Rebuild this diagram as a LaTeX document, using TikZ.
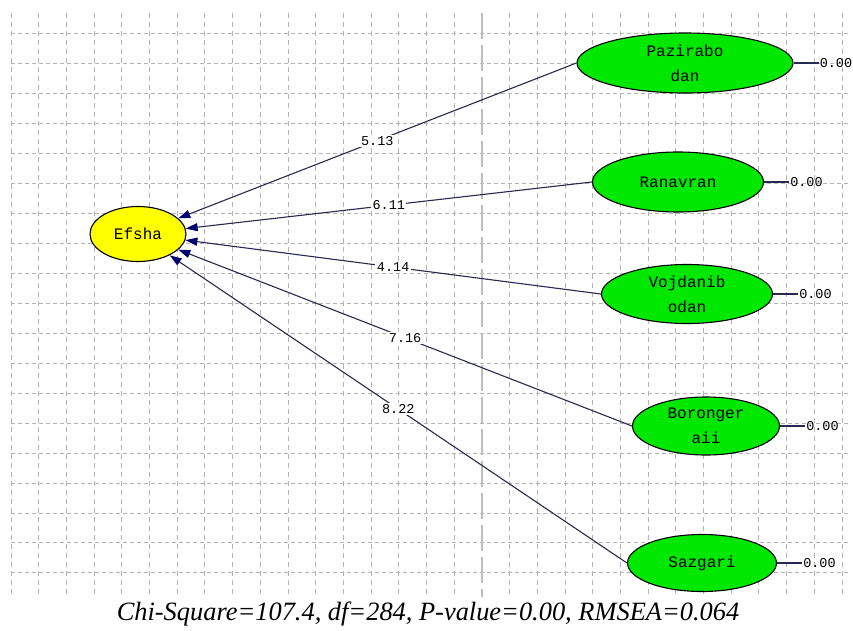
\documentclass[tikz,border=0pt]{standalone}
\usepackage{fontspec}
\setmainfont{Liberation Serif}
\newfontfamily\monofont{Liberation Mono}
\usetikzlibrary{shapes.geometric,arrows.meta}
\definecolor{gridgray}{RGB}{180,180,180}
\definecolor{heavygray}{RGB}{190,190,190}
\definecolor{pathcol}{RGB}{40,40,80}
\definecolor{tipcol}{RGB}{0,0,110}
\definecolor{latgreen}{RGB}{0,232,0}
\definecolor{latyellow}{RGB}{255,255,0}
\begin{document}
\begin{tikzpicture}[x=1pt,y=-1pt,
  gridh/.style={gridgray,line width=1pt,dash pattern=on 4pt off 3pt},
  gridv/.style={gridgray,line width=1pt,dash pattern=on 5pt off 4pt},
  heavyv/.style={heavygray,line width=1.7pt,dash pattern=on 26pt off 6pt},
  latent/.style={ellipse,draw=black,line width=1.1pt,inner sep=0pt,align=center,
    font=\monofont\fontsize{16}{25}\selectfont},
  obs/.style={latent,fill=latgreen},
  path/.style={pathcol,line width=1.1pt,-{Triangle[length=12pt,width=8pt,color=tipcol]}},
  lbl/.style={fill=white,inner sep=1.5pt,text=black,font=\monofont\fontsize{13.5}{13.5}\selectfont},
  res/.style={inner sep=1pt,anchor=west,font=\monofont\fontsize{13.5}{13.5}\selectfont},
  resline/.style={pathcol,line width=1.1pt}]
\useasboundingbox (0,0) rectangle (853,631);
% grid
\foreach \k in {0,...,18} {\draw[gridh] (11,{34+29.94*\k}) -- (851,{34+29.94*\k});}
\foreach \k in {0,...,30} {\ifnum\k=17\else\draw[gridv] ({11+27.7*\k},13) -- ({11+27.7*\k},597);\fi}
\draw[heavyv] (482,13) -- (482,597);
% nodes
\node[latent,fill=latyellow,minimum width=96pt,minimum height=55pt] (ef) at (138,234) {Efsha};
\node[obs,minimum width=216pt,minimum height=60pt] (paz) at (685,63) {Pazirabo\\dan};
\node[obs,minimum width=171pt,minimum height=60pt] (ran) at (678,182) {Ranavran};
\node[obs,minimum width=171pt,minimum height=59pt] (voj) at (687,294) {Vojdanib\\odan};
\node[obs,minimum width=147pt,minimum height=58pt] (bor) at (706,426) {Boronger\\aii};
\node[obs,minimum width=149pt,minimum height=57pt] (saz) at (702,563) {Sazgari};
% residuals
\node[res] (rpaz) at ([xshift=25pt]paz.east) {0.00};
\node[res] (rran) at ([xshift=25pt]ran.east) {0.00};
\node[res] (rvoj) at ([xshift=25pt]voj.east) {0.00};
\node[res] (rbor) at ([xshift=25pt]bor.east) {0.00};
\node[res] (rsaz) at ([xshift=25pt]saz.east) {0.00};
\draw[resline] (paz.east) -- (rpaz.west);
\draw[resline] (ran.east) -- (rran.west);
\draw[resline] (voj.east) -- (rvoj.west);
\draw[resline] (bor.east) -- (rbor.west);
\draw[resline] (saz.east) -- (rsaz.west);
% paths
\draw[path] (paz.west) -- node[lbl] {5.13} (ef);
\draw[path] (ran.west) -- node[lbl] {6.11} (ef);
\draw[path] (voj.west) -- node[lbl] {4.14} (ef);
\draw[path] (bor.west) -- node[lbl] {7.16} (ef);
\draw[path] (saz.west) -- node[lbl] {8.22} (ef);
% caption
\node[font=\itshape\fontsize{26.4}{26.4}\selectfont] (cap) at (428,614) {Chi-Square=107.4, df=284, P-value=0.00, RMSEA=0.064};
\end{tikzpicture}
\end{document}
